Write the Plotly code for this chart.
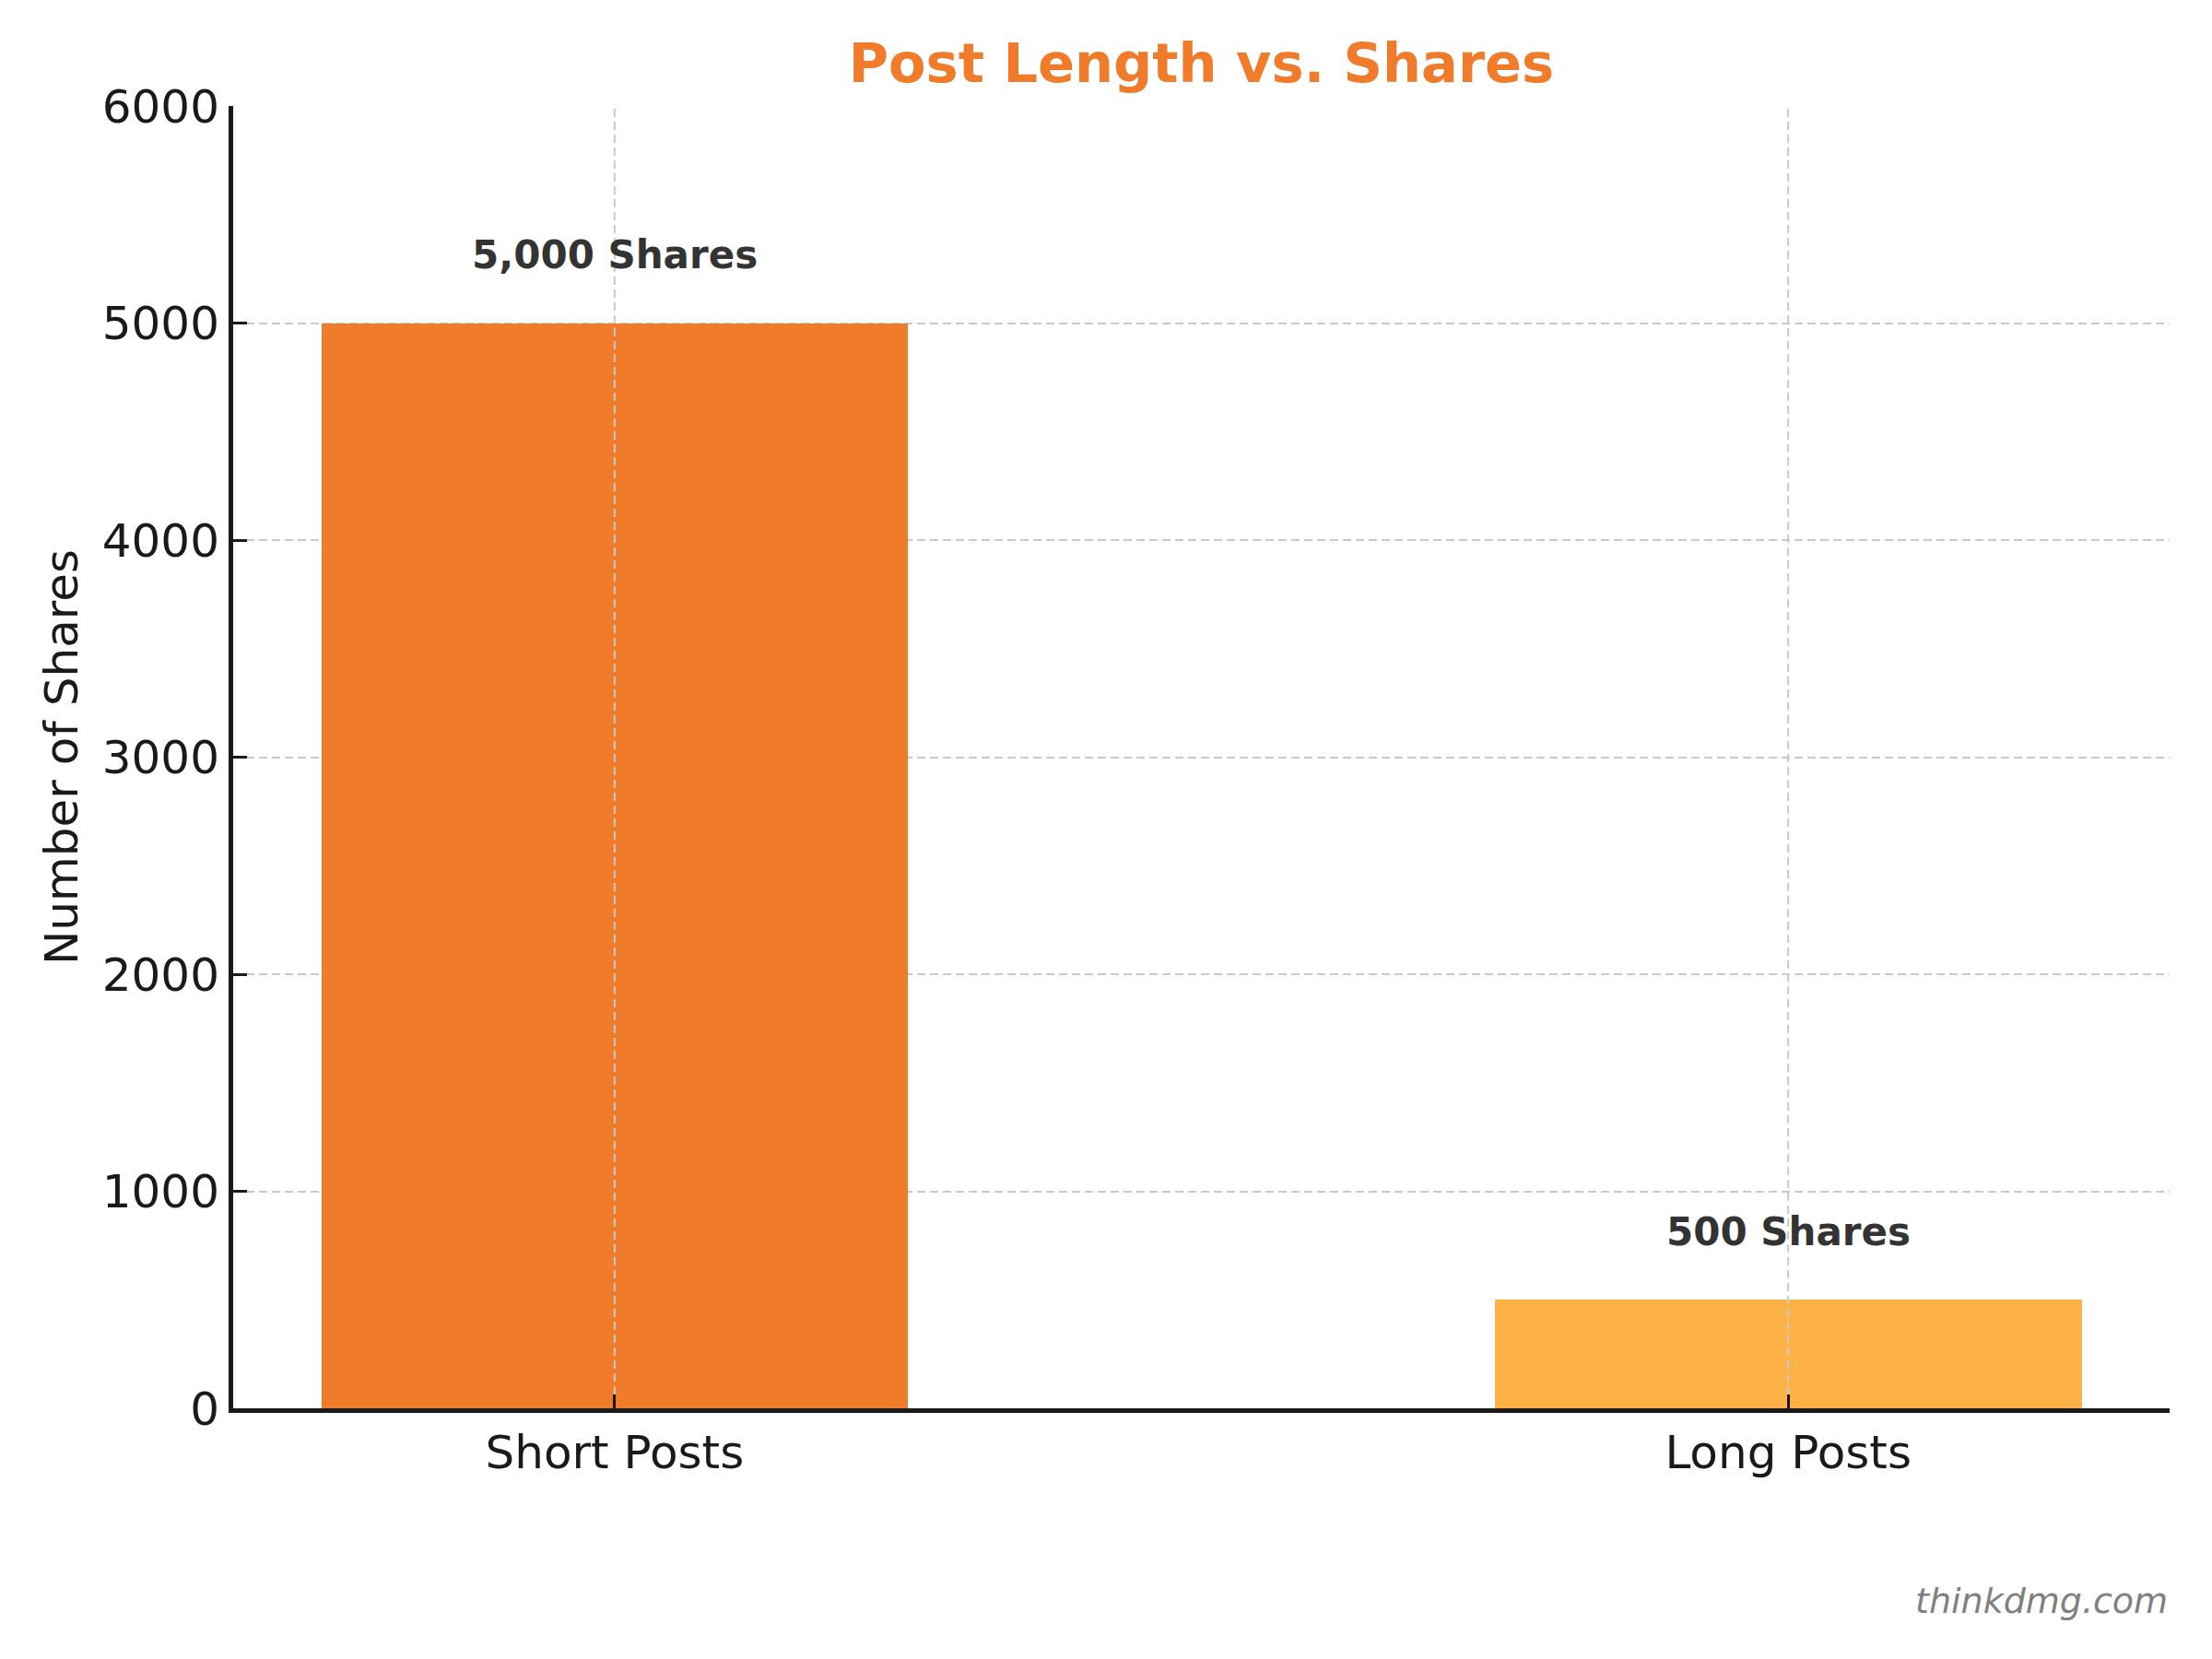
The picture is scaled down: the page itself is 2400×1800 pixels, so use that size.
import plotly.graph_objects as go

# datos del gráfico
categories = ["Short Posts", "Long Posts"]
shares = [5000, 500]
bar_colors = ["#F07B2A", "#FDB147"]
labels = ["5,000 Shares", "500 Shares"]
y_ticks = [0, 1000, 2000, 3000, 4000, 5000, 6000]

FONT = "DejaVu Sans"
GRID = "#c9c9c9"
AXIS = "#1a1a1a"

W, H = 2400, 1800
# el body del html añade ~8px, se compensa en los márgenes
M = dict(l=245, r=54, t=107, b=280)
TICKLEN = 15

fig = go.Figure(
    go.Bar(
        x=categories,
        y=shares,
        marker=dict(color=bar_colors, line=dict(width=0)),
        width=0.5,
        showlegend=False,
    )
)

# etiquetas encima de cada barra
for cat, val, txt in zip(categories, shares, labels):
    fig.add_annotation(
        x=cat, y=val + 200, text=f"<b>{txt}</b>",
        showarrow=False, yanchor="bottom",
        font=dict(family=FONT, size=42, color="#333333"),
    )

# rejilla vertical por encima de las barras (como en matplotlib),
# empezando encima de la marca del eje para que ésta se vea
plot_h = H - M["t"] - M["b"]
for cat in categories:
    fig.add_shape(
        type="line", xref="x", yref="y", ysizemode="pixel", yanchor=0,
        x0=cat, x1=cat, y0=TICKLEN, y1=plot_h,
        line=dict(color=GRID, width=2, dash="9px,5px"), layer="above",
    )

fig.add_annotation(
    text="<i>thinkdmg.com</i>", xref="paper", yref="paper",
    x=1.0, y=-0.165, xanchor="right", yanchor="bottom", showarrow=False,
    font=dict(family=FONT, size=38, color="#808080"),
)

fig.update_layout(
    width=W,
    height=H,
    paper_bgcolor="white",
    plot_bgcolor="white",
    font=dict(family=FONT, color=AXIS),
    margin=dict(**M, autoexpand=False),
    bargap=0,
    title=dict(
        text="<b>Post Length vs. Shares</b>",
        x=0.5, xref="paper", xanchor="center",
        y=1, yref="paper", yanchor="bottom", pad=dict(b=26),
        font=dict(family=FONT, size=59, color="#F07B2A"),
    ),
)

fig.update_xaxes(
    type="category",
    range=[-0.325, 1.325],
    showline=True, linecolor=AXIS, linewidth=5, mirror=False,
    ticks="inside", ticklen=TICKLEN, tickwidth=3, tickcolor=AXIS,
    tickfont=dict(family=FONT, size=50, color=AXIS),
    showgrid=False, zeroline=False,
    layer="above traces",
)

fig.update_yaxes(
    range=[0, 6000],
    tickvals=y_ticks, tickformat="d",
    showline=True, linecolor=AXIS, linewidth=5, mirror=False,
    ticks="inside", ticklen=TICKLEN, tickwidth=3, tickcolor=AXIS,
    tickfont=dict(family=FONT, size=50, color=AXIS),
    showgrid=True, gridcolor=GRID, gridwidth=2, griddash="9px,5px",
    zeroline=False,
    title=dict(text="Number of Shares", standoff=12,
               font=dict(family=FONT, size=50, color=AXIS)),
    automargin=False,
    layer="above traces",
)

fig.write_html("out.html")
